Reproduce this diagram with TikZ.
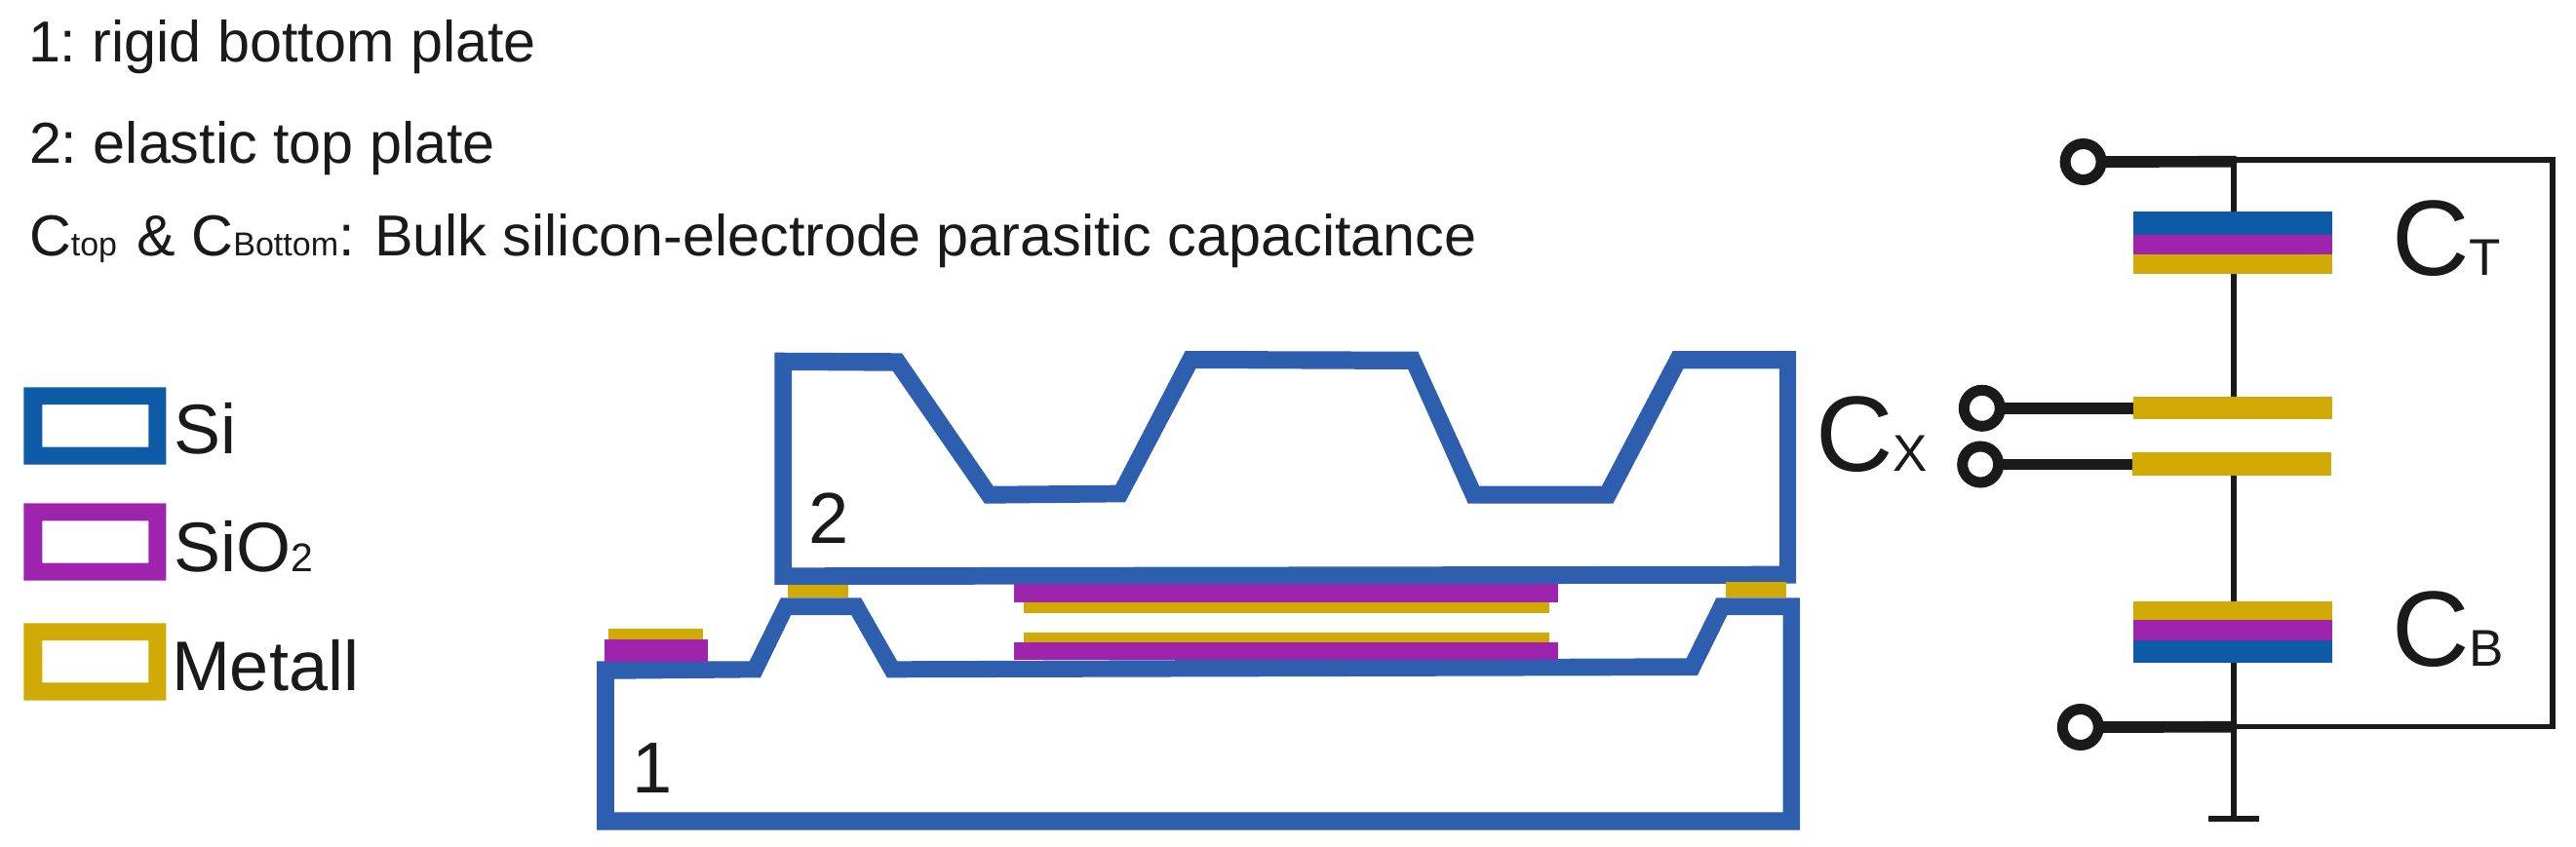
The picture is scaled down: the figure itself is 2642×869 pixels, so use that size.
\documentclass[tikz,border=0pt]{standalone}
\usepackage{fontspec}
\setmainfont{Liberation Sans}
\definecolor{sistruct}{HTML}{2D5FAE}
\definecolor{silegend}{HTML}{0D5AA7}
\definecolor{oxide}{HTML}{9E24AD}
\definecolor{metal}{HTML}{D1AA05}
\definecolor{ink}{HTML}{1A1A1A}
\newcommand{\layer}[5]{\fill[#1] (#2,#3) rectangle (#4,#5);}
\tikzset{
 txt/.style={inner sep=0pt,outer sep=0pt,text=ink},
 term/.style={circle,draw=ink,line width=11pt,fill=white,minimum size=37pt,inner sep=0pt,outer sep=0pt},
 plate/.style={inner sep=0pt,outer sep=0pt,anchor=north west,minimum width=203.6pt},
 thick wire/.style={draw=ink,line width=11.7pt},
 thin wire/.style={draw=ink,line width=5.2pt},
 line text/.style={txt,anchor=base west,font=\fontsize{59.3}{66}\selectfont},
 big/.style={txt,anchor=base west,font=\fontsize{72}{80}\selectfont},
 huge label/.style={txt,anchor=base west,font=\fontsize{110}{116}\selectfont},
}
\newcommand{\sm}[2]{{\fontsize{#1}{#1}\selectfont #2}}
\frenchspacing
\begin{document}
\begin{tikzpicture}[x=1pt,y=-1pt]
\useasboundingbox (0,0) rectangle (2642,869);
\fill[white] (0,0) rectangle (2642,869);
% header texts
\node[line text] (l1) at (29,64) {1: rigid bottom plate};
\node[line text] (l2) at (30,168) {2: elastic top plate};
\node[line text] (l3) at (30,262.5) {C\sm{34}{top}\hspace{4pt} \& C\sm{34}{Bottom}:\hspace{4pt} Bulk silicon-electrode parasitic capacitance};
% legend
\fill[silegend,even odd rule] (24.3,397.3) rectangle (170.3,476.7) (43.3,415) rectangle (152.3,458.7);
\fill[oxide,even odd rule] (24.3,516.3) rectangle (170.3,595.7) (43.3,534.3) rectangle (152.3,577.7);
\fill[metal,even odd rule] (24.3,639.3) rectangle (170.3,718.7) (43.3,657) rectangle (152.3,700.3);
\node[big] (lsi) at (178,465.7) {Si};
\node[big] (lox) at (178,586) {SiO\sm{41}{2}};
\node[big] (lme) at (176,708) {Metall};
% top plate
\fill[sistruct,even odd rule]
 (794.3,361.7) -- (925,362.3) -- (1018.6,498.7) -- (1144.3,497.7) -- (1215.7,360) -- (1454.3,360.7) -- (1517.1,498.7) -- (1642.9,498.7) -- (1715.7,360) -- (1842,360) -- (1842,598.7) -- (794.3,600) -- cycle
 (812,380) -- (915.7,380.7) -- (1010,516.7) -- (1154,515.3) -- (1226.4,378) -- (1444.3,379) -- (1505.7,516.7) -- (1654.3,516.7) -- (1726.4,378.3) -- (1825,378.3) -- (1825,580.7) -- (812,582.3) -- cycle;
% bottom plate
\fill[sistruct,even odd rule]
 (612,678.3) -- (768.8,678.3) -- (800.9,613.3) -- (883,613.3) -- (920.1,678.3) -- (1729.8,675.3) -- (1760.4,613.3) -- (1846.1,613.3) -- (1846.1,851.7) -- (612,851.7) -- cycle
 (629.9,696.7) -- (779.9,695.3) -- (811.2,631) -- (873.2,631) -- (909.8,695.3) -- (1740.9,693) -- (1771.5,631) -- (1828.5,631) -- (1828.5,833.3) -- (629.9,833.3) -- cycle;
% layers
\layer{metal}{624.1}{645}{721}{655.7}
\layer{oxide}{620}{655.7}{725.9}{679}
\layer{metal}{808}{600}{870.1}{613.3}
\layer{metal}{1770}{597.3}{1832}{613.3}
\layer{oxide}{1040.2}{599.3}{1598.1}{617.7}
\layer{metal}{1050.4}{617.7}{1588.9}{629.3}
\layer{metal}{1050.4}{648.7}{1588.9}{659.3}
\layer{oxide}{1040.2}{659.3}{1598.1}{677.3}
\node[txt,anchor=base west,font=\fontsize{74}{80}\selectfont] (n1) at (648,813) {1};
\node[txt,anchor=base west,font=\fontsize{74}{80}\selectfont] (n2) at (829,557) {2};
% circuit
\coordinate (jt) at (2291,165);
\coordinate (jb) at (2291,745.5);
\coordinate (jtt) at (2293.6,165.8);
\coordinate (jbb) at (2293.6,745.8);
\coordinate (rt) at (2618,164);
\coordinate (rb) at (2618,745.5);
\coordinate (gnd) at (2291,840.3);
\node[term] (tt) at (2136.6,166) {};
\node[term] (tb) at (2133.8,746) {};
\node[term] (tx1) at (2032.8,418.8) {};
\node[term] (tx2) at (2031.2,476.5) {};
\node[plate,fill=silegend,minimum height=24pt] (ct1) at (2188.2,217.3) {};
\node[plate,fill=oxide,minimum height=20pt] (ct2) at (2188.2,241.3) {};
\node[plate,fill=metal,minimum height=19.4pt] (ct3) at (2188.2,261.3) {};
\node[plate,fill=metal,minimum height=23.6pt] (cx1) at (2188.2,406.7) {};
\node[plate,fill=metal,minimum height=24pt] (cx2) at (2187,464.3) {};
\node[plate,fill=metal,minimum height=19.6pt] (cb1) at (2188.2,616.7) {};
\node[plate,fill=oxide,minimum height=20.4pt] (cb2) at (2188.2,636.3) {};
\node[plate,fill=silegend,minimum height=23.3pt] (cb3) at (2188.2,656.7) {};
\draw[thick wire] (tt) -- (jtt);
\draw[thick wire] (tb) -- (jbb);
\draw[thick wire] (tx1.east) -- (tx1.east -| cx1.west);
\draw[thick wire] (tx2.east) -- (tx2.east -| cx2.west);
\draw[thin wire] (jt) -- (ct1.north -| jt);
\draw[thin wire] (ct3.south -| jt) -- (cx1.north -| jt);
\draw[thin wire] (cx2.south -| jt) -- (cb1.north -| jt);
\draw[thin wire] (cb3.south -| jt) -- (gnd);
\draw[thin wire,line join=miter] (jt |- rt) -- (rt) -- (rb) -- (jb);
\draw[draw=ink,line width=6pt] ([xshift=-26pt]gnd) -- ([xshift=26pt]gnd);
\node[huge label] (lct) at (2453.5,282) {C\sm{53}{T}};
\node[huge label] (lcb) at (2453.5,683) {C\sm{53}{B}};
\node[huge label] (lcx) at (1862.5,483.5) {C\sm{53}{X}};
\end{tikzpicture}
\end{document}
